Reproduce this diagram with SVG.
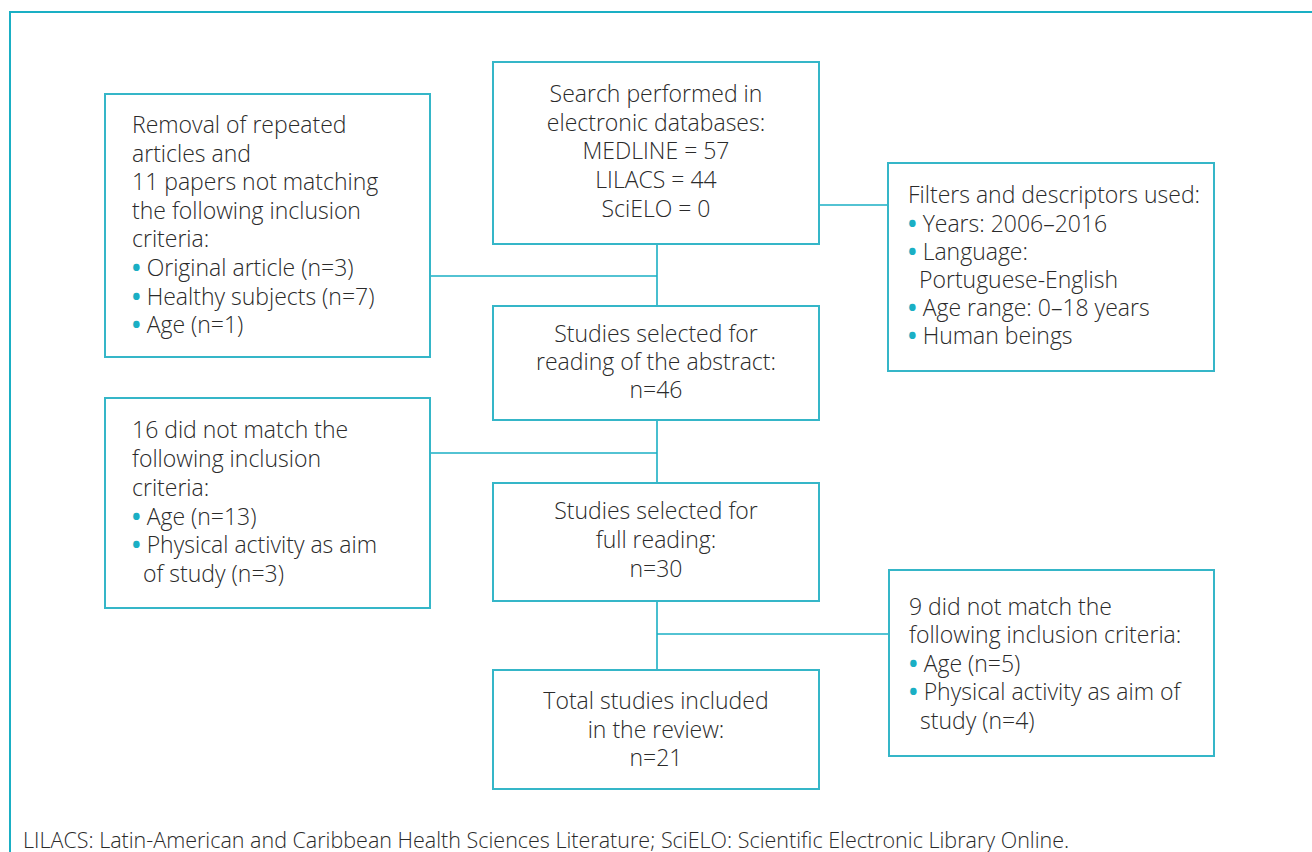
<svg xmlns="http://www.w3.org/2000/svg" width="1312" height="852" viewBox="0 0 1312 852">
<style>
.frame{fill:none;stroke:#1aafc4;stroke-width:2}
.box{fill:#fff;stroke:#35b6c8;stroke-width:2}
.conn{fill:none;stroke:#1aafc4;stroke-width:1.6}
text{font-family:"Open Sans","Liberation Sans",sans-serif;font-size:23px;fill:#2a2a2a;font-weight:300}
.c{text-anchor:middle}
.b{fill:#1aafc4;font-weight:700}
.foot{font-size:21.5px}
</style>
<rect width="1312" height="852" fill="#fff"/>
<path class="frame" d="M10,852 V12 H1312"/>
<g id="connectors">
<path class="conn" d="M657,244 V306"/>
<path class="conn" d="M430,276 H657"/>
<path class="conn" d="M819,205 H888"/>
<path class="conn" d="M657,420 V483"/>
<path class="conn" d="M430,453 H657"/>
<path class="conn" d="M657,601 V670"/>
<path class="conn" d="M657,634 H889"/>
</g>
<g id="search">
<rect class="box" x="493" y="62" width="326" height="182"/>
<text class="c" x="656" y="102">Search performed in</text>
<text class="c" x="656" y="131">electronic databases:</text>
<text class="c" x="656" y="159">MEDLINE = 57</text>
<text class="c" x="656" y="188">LILACS = 44</text>
<text class="c" x="656" y="217">SciELO = 0</text>
</g>
<g id="removal">
<rect class="box" x="105" y="94" width="325" height="263"/>
<text x="132" y="133">Removal of repeated</text>
<text x="132" y="162">articles and</text>
<text x="132" y="190">11 papers not matching</text>
<text x="132" y="219">the following inclusion</text>
<text x="132" y="247">criteria:</text>
<text x="132" y="276"><tspan class="b">•</tspan> Original article (n=3)</text>
<text x="132" y="305"><tspan class="b">•</tspan> Healthy subjects (n=7)</text>
<text x="132" y="333"><tspan class="b">•</tspan> Age (n=1)</text>
</g>
<g id="filters">
<rect class="box" x="888" y="163" width="326" height="208"/>
<text x="908" y="203">Filters and descriptors used:</text>
<text x="908" y="232"><tspan class="b">•</tspan> Years: 2006–2016</text>
<text x="908" y="260"><tspan class="b">•</tspan> Language:</text>
<text x="919" y="288">Portuguese-English</text>
<text x="908" y="316"><tspan class="b">•</tspan> Age range: 0–18 years</text>
<text x="908" y="344"><tspan class="b">•</tspan> Human beings</text>
</g>
<g id="abstract">
<rect class="box" x="493" y="306" width="326" height="114"/>
<text class="c" x="656" y="342">Studies selected for</text>
<text class="c" x="656" y="370">reading of the abstract:</text>
<text class="c" x="656" y="398">n=46</text>
</g>
<g id="excluded16">
<rect class="box" x="105" y="398" width="325" height="210"/>
<text x="132" y="438">16 did not match the</text>
<text x="132" y="467">following inclusion</text>
<text x="132" y="496">criteria:</text>
<text x="132" y="525"><tspan class="b">•</tspan> Age (n=13)</text>
<text x="132" y="553"><tspan class="b">•</tspan> Physical activity as aim</text>
<text x="143" y="582">of study (n=3)</text>
</g>
<g id="fullreading">
<rect class="box" x="493" y="483" width="326" height="118"/>
<text class="c" x="656" y="519">Studies selected for</text>
<text class="c" x="656" y="548">full reading:</text>
<text class="c" x="656" y="577">n=30</text>
</g>
<g id="excluded9">
<rect class="box" x="889" y="570" width="325" height="186"/>
<text x="909" y="615">9 did not match the</text>
<text x="909" y="643">following inclusion criteria:</text>
<text x="909" y="672"><tspan class="b">•</tspan> Age (n=5)</text>
<text x="909" y="700"><tspan class="b">•</tspan> Physical activity as aim of</text>
<text x="920" y="729">study (n=4)</text>
</g>
<g id="total">
<rect class="box" x="493" y="670" width="326" height="119"/>
<text class="c" x="656" y="709">Total studies included</text>
<text class="c" x="656" y="738">in the review:</text>
<text class="c" x="656" y="766">n=21</text>
</g>
<text class="foot" x="23" y="848">LILACS: Latin-American and Caribbean Health Sciences Literature; SciELO: Scientific Electronic Library Online.</text>
</svg>
